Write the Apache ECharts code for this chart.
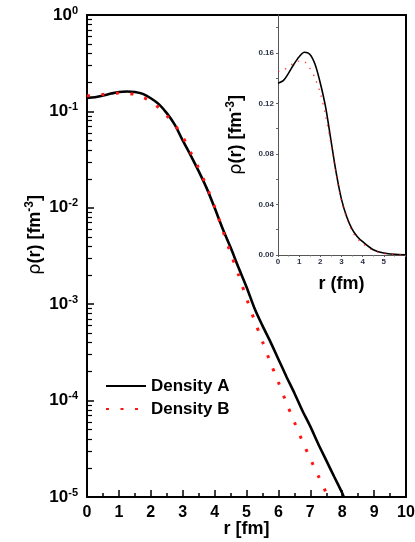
<!DOCTYPE html>
<html>
<head>
<meta charset="utf-8">
<script src="https://cdn.jsdelivr.net/npm/echarts@6/dist/echarts.min.js"></script>
<style>
  html, body { margin: 0; padding: 0; background: #fff; }
  #chart { width: 415px; height: 542px; }
</style>
</head>
<body>
<div id="chart"></div>
<script>
// Radial density profiles, log scale (main panel)
const radiusA = [0, 0.25, 0.5, 0.75, 1.0, 1.25, 1.5, 1.75, 2.0, 2.25, 2.5, 2.75, 3.0, 3.25, 3.5, 3.75,
  4.0, 4.25, 4.5, 4.75, 5.0, 5.25, 5.5, 5.75, 6.0, 6.25, 6.5, 6.75, 7.0, 7.25, 7.5, 7.75, 8.0, 8.05];
const densityA = [0.138, 0.140, 0.146, 0.153, 0.159, 0.161, 0.159, 0.152, 0.137, 0.119, 0.096, 0.073,
  0.050, 0.035, 0.0240, 0.0160, 0.0100, 0.0061, 0.00389, 0.0024, 0.00151, 9.1e-4, 6.0e-4, 4.07e-4,
  2.69e-4, 1.78e-4, 1.2e-4, 7.9e-5, 5.4e-5, 3.55e-5, 2.4e-5, 1.62e-5, 1.1e-5, 1.0e-5];

const radiusB = [0, 0.25, 0.5, 0.75, 1.0, 1.25, 1.5, 1.75, 2.0, 2.25, 2.5, 2.75, 3.0, 3.25, 3.5, 3.75,
  4.0, 4.25, 4.5, 4.75, 5.0, 5.25, 5.5, 5.75, 6.0, 6.25, 6.5, 6.75, 7.0, 7.25, 7.5, 7.55];
const densityB = [0.145, 0.147, 0.150, 0.153, 0.155, 0.154, 0.150, 0.140, 0.128, 0.109, 0.090, 0.0728,
  0.0546, 0.0376, 0.0257, 0.0166, 0.0102, 0.0059, 0.0034, 0.00202, 0.00115, 6.8e-4, 4.1e-4, 2.48e-4,
  1.55e-4, 9.5e-5, 6.0e-5, 3.8e-5, 2.5e-5, 1.66e-5, 1.1e-5, 1.0e-5];

// Linear-scale inset
const insetRadius = [0, 0.25, 0.5, 0.75, 1.0, 1.25, 1.5, 1.75, 2.0, 2.25, 2.5, 2.75, 3.0, 3.25, 3.5,
  3.75, 4.0, 4.5, 5.0, 5.5, 6.0];
const insetA = [0.136, 0.138, 0.144, 0.151, 0.157, 0.1605, 0.159, 0.151, 0.136, 0.117, 0.091, 0.065,
  0.044, 0.030, 0.0205, 0.0145, 0.0105, 0.0042, 0.0016, 0.0006, 0.00025];
const insetB = [0.145, 0.1465, 0.149, 0.152, 0.1535, 0.153, 0.148, 0.140, 0.128, 0.110, 0.088, 0.064,
  0.043, 0.029, 0.019, 0.013, 0.009, 0.0035, 0.0012, 0.0004, 0.00015];

// Axis ticks
const decadeExponents = [0, -1, -2, -3, -4, -5];
const insetYTicks = [0, 0.04, 0.08, 0.12, 0.16];
const insetYMinor = [0, 0.02, 0.04, 0.06, 0.08, 0.10, 0.12, 0.14, 0.16, 0.18];

const decadeValues = decadeExponents.map(e => Math.pow(10, e));
const minorValues = [];
decadeExponents.slice(1).forEach(e => {
  for (let k = 2; k <= 9; k++) minorValues.push(k * Math.pow(10, e));
});

const pairs = (xs, ys) => xs.map((x, i) => [x, ys[i]]);
const FONT = 'Liberation Sans, Arial, sans-serif';

const supRich = {
  b: { fontSize: 17, fontWeight: 'bold', fontFamily: FONT, color: '#000', lineHeight: 20 },
  s: { fontSize: 11, fontWeight: 'bold', fontFamily: FONT, color: '#000', verticalAlign: 'top', lineHeight: 12 }
};

const nameRich = (size) => ({
  g: { fontSize: size, fontFamily: 'DejaVu Sans, ' + FONT, color: '#000' },
  b: { fontSize: size, fontWeight: 'bold', fontFamily: FONT, color: '#000', lineHeight: size + 4 },
  s: { fontSize: Math.round(size * 0.65), fontWeight: 'bold', fontFamily: FONT, color: '#000', verticalAlign: 'top' }
});

const chart = echarts.init(document.getElementById('chart'), null, { renderer: 'canvas' });

chart.setOption({
  animation: false,
  backgroundColor: '#fff',
  grid: [
    { left: 87, right: 9, top: 15, bottom: 45, outerBoundsMode: 'none', containLabel: false,
      show: true, borderColor: '#000', borderWidth: 2, backgroundColor: 'transparent' },
    { left: 278, right: 10, top: 15, bottom: 287, outerBoundsMode: 'none', containLabel: false }
  ],
  legend: {
    data: ['Density A', 'Density B'],
    orient: 'vertical',
    left: 105,
    top: 377,
    padding: 0,
    itemWidth: 40,
    itemHeight: 14,
    itemGap: 5,
    itemStyle: { color: 'rgba(0,0,0,0)', borderWidth: 0 },
    textStyle: { fontSize: 17, fontWeight: 'bold', fontFamily: FONT, color: '#000', lineHeight: 18 }
  },
  xAxis: [
    {
      gridIndex: 0, type: 'value', min: 0, max: 10, interval: 1,
      name: 'r [fm]', nameLocation: 'middle', nameGap: 23, nameMoveOverlap: false,
      nameTextStyle: { fontSize: 18, fontWeight: 'bold', fontFamily: FONT, color: '#000' },
      axisLine: { lineStyle: { color: '#000', width: 2 } },
      axisTick: { inside: true, length: 7, lineStyle: { color: '#000', width: 1.5 } },
      minorTick: { show: true, splitNumber: 2, length: 4, lineStyle: { color: '#000', width: 1.5 } },
      axisLabel: { fontSize: 16, fontWeight: 'bold', fontFamily: FONT, color: '#000', margin: 8 },
      splitLine: { show: false }
    },
    {
      gridIndex: 1, type: 'value', min: 0, max: 6, interval: 1,
      name: 'r (fm)', nameLocation: 'middle', nameGap: 20, nameMoveOverlap: false,
      nameTextStyle: { fontSize: 18, fontWeight: 'bold', fontFamily: FONT, color: '#000' },
      axisLine: { lineStyle: { color: '#555', width: 1 } },
      axisTick: { length: 2, lineStyle: { color: '#555', width: 1 } },
      minorTick: { show: true, splitNumber: 2, length: 1.5, lineStyle: { color: '#777' } },
      axisLabel: { fontSize: 8, fontWeight: 'bold', fontFamily: FONT, color: '#2b3347', margin: 3, showMaxLabel: false },
      splitLine: { show: false }
    }
  ],
  yAxis: [
    {
      gridIndex: 0, type: 'log', logBase: 10, min: 1e-5, max: 1,
      name: '{g|ρ}{b|(r) [fm}{s|-3}{b|]}', nameLocation: 'middle', nameGap: 41, nameRotate: 90,
      nameMoveOverlap: false,
      nameTextStyle: { rich: nameRich(18), padding: [0, 0, 0, 42] },
      axisLine: { lineStyle: { color: '#000', width: 2 } },
      axisTick: { inside: true, length: 7, customValues: decadeValues, lineStyle: { color: '#000', width: 1.5 } },
      axisLabel: {
        customValues: decadeValues, margin: 9,
        formatter: v => '{b|10}{s|' + Math.round(Math.log10(v)) + '}',
        rich: supRich
      },
      splitLine: { show: false }
    },
    {
      gridIndex: 0, type: 'log', logBase: 10, min: 1e-5, max: 1, position: 'left',
      axisLine: { show: false },
      axisTick: { inside: true, length: 5, customValues: minorValues, lineStyle: { color: '#000', width: 1.2 } },
      axisLabel: { show: false },
      splitLine: { show: false }
    },
    {
      gridIndex: 1, type: 'value', min: 0, max: 0.19,
      name: '{g|ρ}{b|(r) [fm}{s|-3}{b|]}', nameLocation: 'middle', nameGap: 31, nameRotate: 90,
      nameMoveOverlap: false,
      nameTextStyle: { rich: nameRich(18) },
      axisLine: { lineStyle: { color: '#555', width: 1 } },
      axisTick: { length: 2, customValues: insetYMinor, lineStyle: { color: '#666', width: 1 } },
      axisLabel: {
        customValues: insetYTicks, margin: 4,
        fontSize: 8, fontWeight: 'bold', fontFamily: FONT, color: '#2b3347',
        formatter: v => v.toFixed(2)
      },
      splitLine: { show: false }
    }
  ],
  series: [
    {
      name: 'Density A', type: 'line', xAxisIndex: 0, yAxisIndex: 0,
      data: pairs(radiusA, densityA), symbol: 'none', smooth: 0.3, z: 3,
      lineStyle: { color: '#000', width: 2.6 }, itemStyle: { color: '#000' }
    },
    {
      name: 'Density B', type: 'line', xAxisIndex: 0, yAxisIndex: 0,
      data: pairs(radiusB, densityB), symbol: 'none', smooth: 0.3, z: 4,
      lineStyle: { color: '#ff1414', width: 3, type: [3, 11.5], cap: 'butt' }, itemStyle: { color: '#ff1414' }
    },
    {
      name: 'Density A', type: 'line', xAxisIndex: 1, yAxisIndex: 2,
      data: pairs(insetRadius, insetA), symbol: 'none', smooth: 0.3, z: 3,
      lineStyle: { color: '#000', width: 1.6 }
    },
    {
      name: 'Density B', type: 'line', xAxisIndex: 1, yAxisIndex: 2,
      data: pairs(insetRadius, insetB), symbol: 'none', smooth: 0.3, z: 4,
      lineStyle: { color: 'rgba(255,30,30,0.8)', width: 1.4, type: [1.5, 6] }
    }
  ]
});
</script>
</body>
</html>
